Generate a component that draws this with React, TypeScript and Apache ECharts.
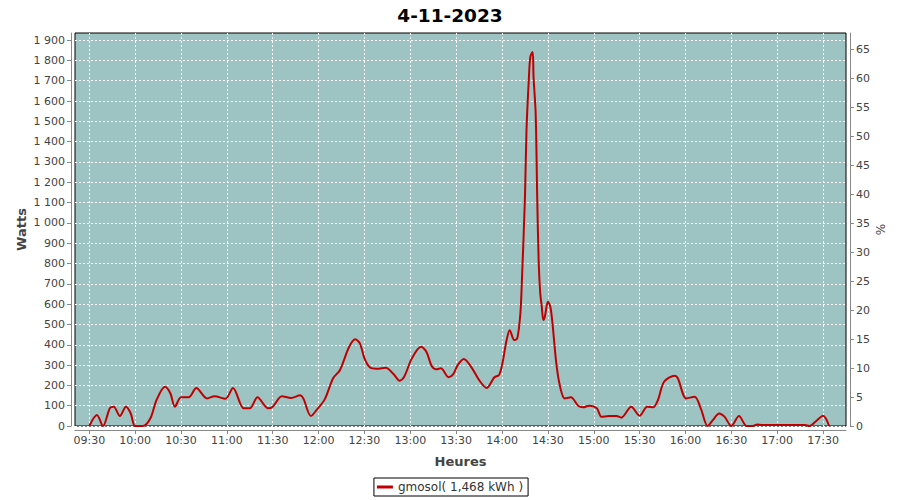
import React, { useEffect, useRef } from 'react';
import * as echarts from 'echarts';

const TITLE = '4-11-2023';
const SERIES_NAME = 'gmosol( 1,468 kWh )';
const X_NAME = 'Heures';
const Y_NAME = 'Watts';
const Y2_NAME = '%';

const times = [
  '09:30', '09:35', '09:39', '09:43:30', '09:46', '09:50', '09:54', '09:57', '10:00', '10:05',
  '10:10', '10:14', '10:19:30', '10:23', '10:26', '10:30', '10:35', '10:40', '10:47', '10:52',
  '10:59', '11:04', '11:11', '11:15', '11:20', '11:27', '11:30', '11:36', '11:42', '11:48',
  '11:50', '11:55', '11:59', '12:04', '12:09:30', '12:14', '12:20', '12:24', '12:27', '12:30',
  '12:33:30', '12:38', '12:44', '12:49', '12:53', '12:56', '13:01', '13:07', '13:10:30', '13:14',
  '13:17', '13:20', '13:25', '13:28', '13:31', '13:35', '13:40', '13:45', '13:50', '13:55',
  '13:58', '14:00', '14:03', '14:05', '14:08', '14:10', '14:12', '14:13', '14:15', '14:16',
  '14:17:36', '14:18:30', '14:20', '14:20:36', '14:22', '14:23', '14:24', '14:25', '14:26', '14:27',
  '14:28', '14:30', '14:31:36', '14:33', '14:35:30', '14:38', '14:41', '14:45', '14:50', '14:53',
  '14:57', '15:02', '15:05', '15:10', '15:15', '15:18', '15:24:30', '15:30', '15:35', '15:39',
  '15:42', '15:46', '15:53', '15:55', '16:00:30', '16:06', '16:10', '16:14:30', '16:18', '16:22',
  '16:25:30', '16:30', '16:35', '16:40', '16:44', '16:47', '16:50', '17:18', '17:21', '17:25',
  '17:30', '17:34',
];

const watts = [
  0, 54, 0, 89, 95, 49, 95, 64, 0, 0,
  38, 128, 193, 161, 95, 141, 141, 187, 136, 147,
  134, 187, 87, 87, 141, 87, 95, 147, 138, 151,
  136, 49, 82, 131, 235, 276, 390, 427, 407, 333,
  289, 282, 287, 256, 223, 243, 333, 390, 366, 295,
  279, 284, 240, 254, 300, 330, 289, 226, 187, 240,
  251, 300, 423, 472, 423, 432, 555, 718, 1128, 1457,
  1719, 1817, 1842, 1719, 1538, 1128, 800, 653, 587, 522,
  538, 612, 587, 505, 308, 193, 136, 141, 98, 92,
  100, 87, 46, 49, 49, 41, 95, 51, 95, 92,
  128, 218, 248, 235, 136, 144, 87, 0, 30, 62,
  46, 0, 49, 0, 0, 7, 5, 5, 0, 21,
  51, 0,
];

const xTickLabels = [
  '09:30', '10:00', '10:30', '11:00', '11:30', '12:00', '12:30', '13:00', '13:30',
  '14:00', '14:30', '15:00', '15:30', '16:00', '16:30', '17:00', '17:30',
];
const wattTicks = [0, 100, 200, 300, 400, 500, 600, 700, 800, 900, 1000, 1100, 1200, 1300, 1400, 1500, 1600, 1700, 1800, 1900];
const pctTicks = [0, 5, 10, 15, 20, 25, 30, 35, 40, 45, 50, 55, 60, 65];

const X_MIN = '09:20:39';
const X_MAX = '17:45';
const Y_MAX = 1935;
const Y2_MAX = 67.8;

const FONT = 'DejaVu Sans';

function toMin(t: string): number {
  const p = t.split(':').map(Number);
  return p[0] * 60 + p[1] + (p[2] || 0) / 60;
}

function fmtTime(v: number): string {
  const h = Math.floor(v / 60);
  const m = Math.round(v - h * 60);
  return String(h).padStart(2, '0') + ':' + String(m).padStart(2, '0');
}

function fmtWatts(v: number): string {
  if (v >= 1000) {
    return Math.floor(v / 1000) + ' ' + String(v % 1000).padStart(3, '0');
  }
  return String(v);
}

export default function App() {
  const ref = useRef<HTMLDivElement>(null);

  useEffect(() => {
    if (!ref.current) return;
    const chart = echarts.init(ref.current, undefined, { renderer: 'svg' });
    const xTickVals = xTickLabels.map(toMin);
    const axisGray = '#888888';
    const textGray = '#444444';

    chart.setOption({
      animation: false,
      backgroundColor: '#ffffff',
      title: {
        text: TITLE,
        left: 'center',
        top: 1,
        textStyle: { fontFamily: FONT, fontSize: 18.5, fontWeight: 'bold', color: '#000' },
      },
      grid: {
        left: 75,
        right: 54,
        top: 33,
        bottom: 74,
        show: true,
        backgroundColor: '#9EC3C3',
        borderColor: '#000',
        borderWidth: 1,
      },
      legend: {
        left: 'center',
        top: 478,
        borderColor: '#000',
        borderWidth: 1,
        borderRadius: 0,
        padding: [3, 5, 3, 3],
        itemWidth: 16,
        itemHeight: 3,
        itemGap: 5,
        icon: 'rect',
        textStyle: { fontFamily: FONT, fontSize: 12, color: '#333' },
        data: [SERIES_NAME],
      },
      xAxis: {
        type: 'value',
        min: toMin(X_MIN),
        max: toMin(X_MAX),
        offset: 4,
        name: X_NAME,
        nameLocation: 'middle',
        nameGap: 25,
        nameMoveOverlap: false,
        nameTextStyle: { fontFamily: FONT, fontSize: 13, fontWeight: 'bold', color: textGray },
        axisLine: { show: true, onZero: false, lineStyle: { color: axisGray } },
        axisTick: { show: true, length: 4, customValues: xTickVals, lineStyle: { color: axisGray } },
        axisLabel: {
          customValues: xTickVals,
          formatter: (v: number) => fmtTime(v),
          fontFamily: FONT,
          fontSize: 11,
          color: textGray,
          margin: 5,
        },
        splitLine: { show: true, lineStyle: { color: '#ffffff', type: [2, 2], width: 1 } },
      },
      yAxis: [
        {
          type: 'value',
          min: 0,
          max: Y_MAX,
          offset: 4,
          position: 'left',
          name: Y_NAME,
          nameLocation: 'middle',
          nameGap: 43,
          nameMoveOverlap: false,
          nameTextStyle: { fontFamily: FONT, fontSize: 13, fontWeight: 'bold', color: textGray },
          axisLine: { show: true, lineStyle: { color: axisGray } },
          axisTick: { show: true, length: 4, customValues: wattTicks, lineStyle: { color: axisGray } },
          axisLabel: {
            customValues: wattTicks,
            formatter: (v: number) => fmtWatts(v),
            fontFamily: FONT,
            fontSize: 11,
            color: textGray,
            margin: 6,
          },
          splitLine: { show: true, lineStyle: { color: '#ffffff', type: [2, 2], width: 1 } },
        },
        {
          type: 'value',
          min: 0,
          max: Y2_MAX,
          offset: 4,
          position: 'right',
          name: Y2_NAME,
          nameLocation: 'middle',
          nameGap: 25,
          nameMoveOverlap: false,
          nameTextStyle: { fontFamily: FONT, fontSize: 12, color: textGray },
          axisLine: { show: true, lineStyle: { color: axisGray } },
          axisTick: { show: true, length: 4, customValues: pctTicks, lineStyle: { color: axisGray } },
          axisLabel: {
            customValues: pctTicks,
            fontFamily: FONT,
            fontSize: 11,
            color: textGray,
            margin: 6,
          },
          splitLine: { show: false },
        },
      ],
      series: [
        {
          name: SERIES_NAME,
          type: 'line',
          yAxisIndex: 0,
          showSymbol: false,
          smooth: 0.3,
          clip: true,
          color: '#C00000',
          lineStyle: { color: '#C00000', width: 2 },
          data: times.map((t, i) => [toMin(t), watts[i]]),
        },
      ],
    });

    return () => chart.dispose();
  }, []);

  return (
    <div style={{ position: 'absolute', left: 0, top: 0, width: 900, height: 500 }}>
      <div ref={ref} style={{ width: 900, height: 500 }} />
    </div>
  );
}
